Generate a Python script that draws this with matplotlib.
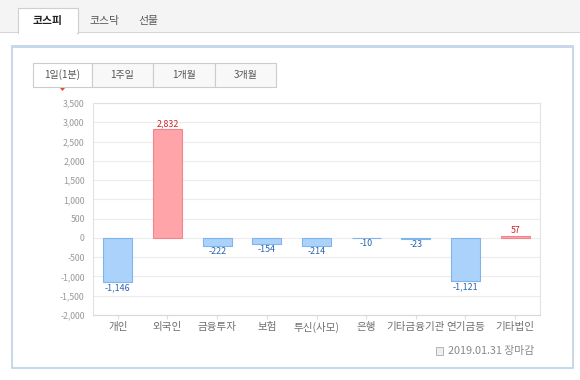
import matplotlib
matplotlib.use("Agg")
import matplotlib.pyplot as plt
from matplotlib.patches import Rectangle, Polygon
from matplotlib.ticker import FuncFormatter, MultipleLocator

plt.rcParams['font.family'] = ['Noto Sans CJK KR', 'DejaVu Sans']

categories = ['개인', '외국인', '금융투자', '보험', '투신(사모)', '은행',
              '기타금융기관', '연기금등', '기타법인']
values = [-1146, 2832, -222, -154, -214, -10, -23, -1121, 57]
top_tabs = ['코스피', '코스닥', '선물']
period_tabs = ['1일(1분)', '1주일', '1개월', '3개월']
footer = '2019.01.31 장마감'

W, H = 580, 380
fig = plt.figure(figsize=(5.8, 3.8), dpi=100)
fig.patch.set_facecolor('white')


def px_rect(x0, y0, x1, y1, **kw):
    # pixel coords (top-left origin) -> figure fraction
    r = Rectangle((x0 / W, 1 - y1 / H), (x1 - x0) / W, (y1 - y0) / H,
                  transform=fig.transFigure, **kw)
    fig.patches.append(r)
    return r


def px_text(x, y, s, **kw):
    fig.text(x / W, 1 - y / H, s, **kw)


# top tab strip
px_rect(0, 0, 580, 32, facecolor='#f4f4f4', edgecolor='none')
px_rect(0, 32, 580, 33, facecolor='#d4d4d4', edgecolor='none')
px_rect(18, 8, 78, 33, facecolor='white', edgecolor='#cfcfcf', lw=0.8)
px_rect(18.5, 31, 77.5, 34, facecolor='white', edgecolor='none')
tab_x = [48, 104, 148]
for i, (t, x) in enumerate(zip(top_tabs, tab_x)):
    px_text(x, 21, t, ha='center', va='center', fontsize=7.8,
            color='#222222' if i == 0 else '#555555',
            fontweight='bold' if i == 0 else 'normal')

# main panel
px_rect(12, 46, 573, 368, facecolor='white', edgecolor='#bcd1e5', lw=1.2)
px_rect(12, 45, 573, 47.5, facecolor='#c6d8ea', edgecolor='none')

# period tabs
edges = [33, 92, 153, 215, 276]
for i, t in enumerate(period_tabs):
    px_rect(edges[i], 63, edges[i + 1], 87,
            facecolor='white' if i == 0 else '#f8f8f8',
            edgecolor='#cccccc', lw=0.8)
    px_text((edges[i] + edges[i + 1]) / 2, 75, t, ha='center', va='center',
            fontsize=7.2, color='#555555')
tri = Polygon([(60 / W, 1 - 88 / H), (65 / W, 1 - 88 / H), (62.5 / W, 1 - 91 / H)],
              closed=True, transform=fig.transFigure, facecolor='#e0502a',
              edgecolor='none')
fig.patches.append(tri)

# chart
ax = fig.add_axes([93 / W, 1 - 315 / H, 447 / W, 212 / H])
ax.set_zorder(5)
ax.set_facecolor('white')
x = range(len(categories))
colors = ['#ffa4a8' if v > 0 else '#aad2fb' for v in values]
edgecs = ['#f0868d' if v > 0 else '#80b4ea' for v in values]
ax.bar(x, values, width=0.58, color=colors, edgecolor=edgecs, linewidth=0.8,
       zorder=3)
for xi, v in zip(x, values):
    if v > 0:
        ax.text(xi, v + 15, f'{v:,}', ha='center', va='bottom', fontsize=6.4,
                color='#c8282c', zorder=4)
    else:
        ax.text(xi, v - 20, f'{v:,}', ha='center', va='top', fontsize=6.4,
                color='#2a63b0', zorder=4)

ax.set_xlim(-0.5, len(categories) - 0.5)
ax.set_ylim(-2000, 3500)
ax.yaxis.set_major_locator(MultipleLocator(500))
ax.yaxis.set_major_formatter(FuncFormatter(lambda v, p: f'{int(v):,}'))
ax.set_xticks(list(x))
ax.set_xticklabels(categories)
ax.tick_params(axis='y', length=0, labelsize=6.3, labelcolor='#999999', pad=6)
ax.tick_params(axis='x', length=3, color='#dddddd', labelsize=7.6,
               labelcolor='#707070', pad=2)
ax.grid(axis='y', color='#ececec', linewidth=0.8, zorder=0)
for s in ax.spines.values():
    s.set_color('#e2e2e2')
    s.set_linewidth(0.8)
ax.spines['bottom'].set_color('#d8d8d8')

# footer
px_rect(436, 347, 443, 355, facecolor='#eeeeee', edgecolor='#aaaaaa', lw=0.6)
px_text(448, 351, footer, ha='left', va='center', fontsize=7.8,
        color='#888888')

fig.savefig('out.png', dpi=100)
